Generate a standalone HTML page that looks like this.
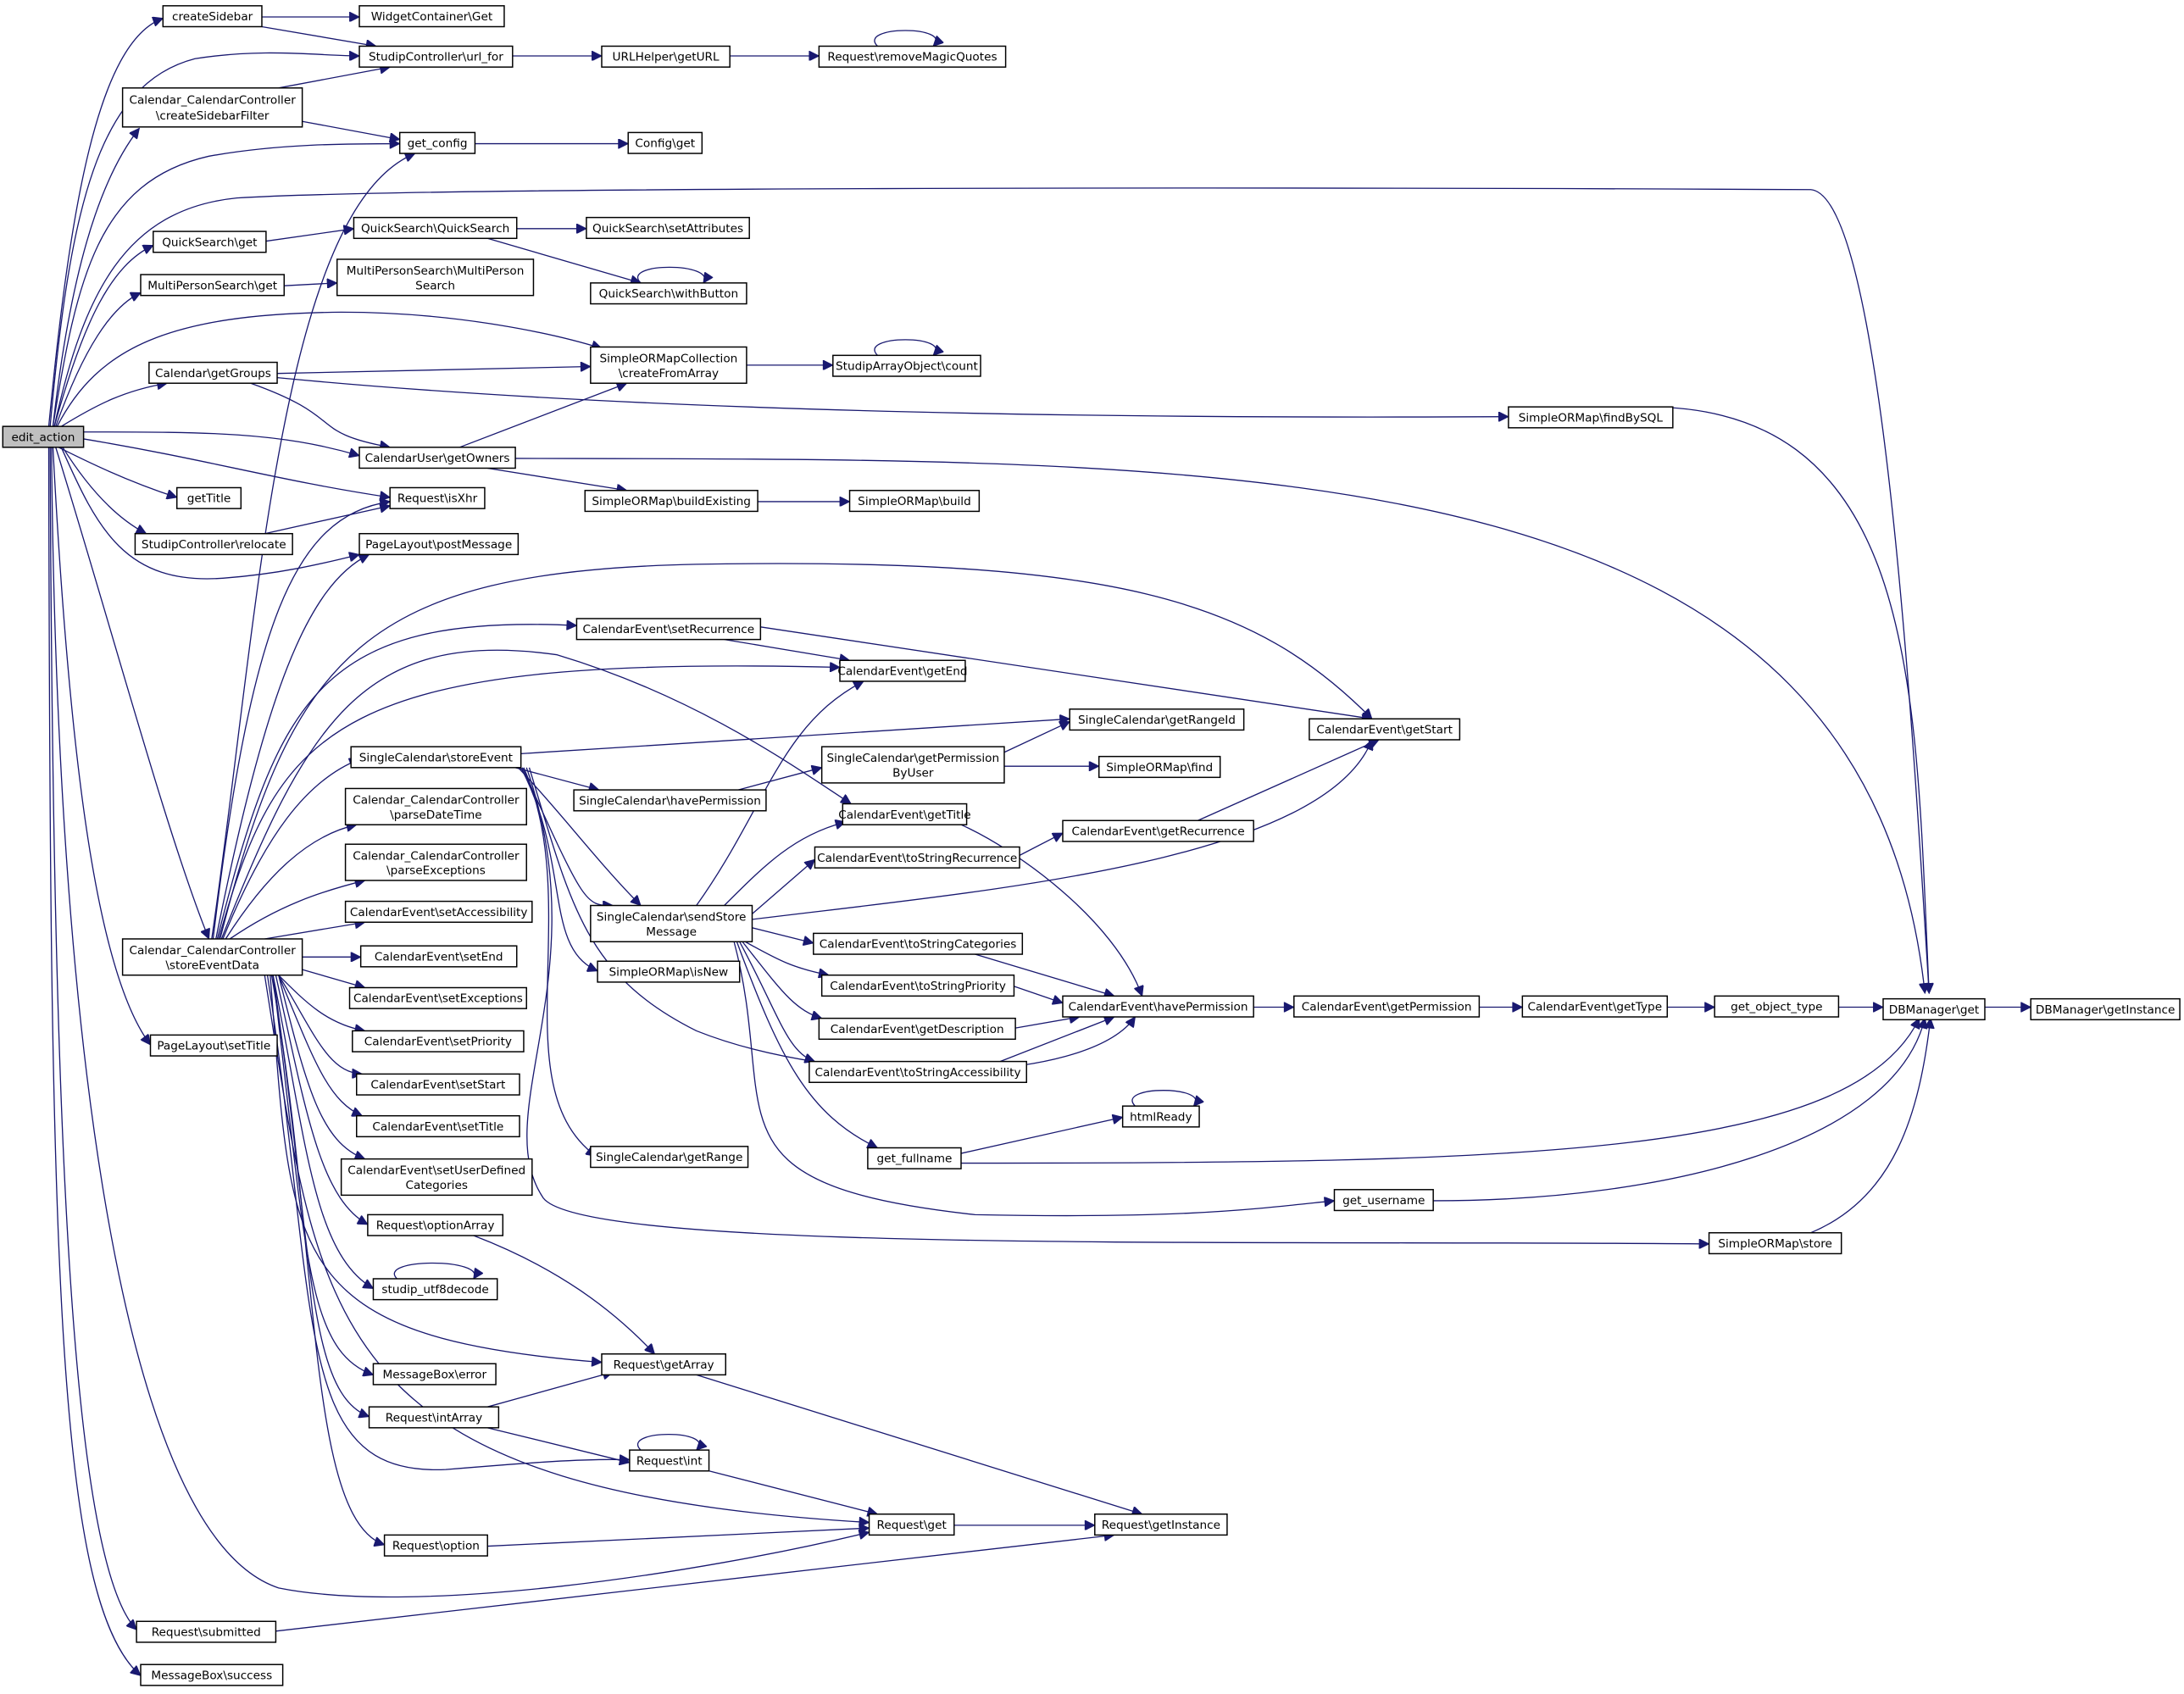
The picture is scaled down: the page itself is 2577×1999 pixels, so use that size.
<!DOCTYPE html>
<html><head><meta charset="utf-8"><style>
html,body{margin:0;padding:0;background:#fff;}
svg{display:block;}
text{font-family:"DejaVu Sans","Liberation Sans",sans-serif;font-size:8.3px;fill:#000;text-anchor:middle;}
rect{fill:#fff;stroke:#000;stroke-width:0.9;}
path{fill:none;stroke:#191970;stroke-width:0.8;marker-end:url(#a);}
</style></head><body>
<svg width="2577" height="1999" viewBox="0 0 1568 1216" xmlns="http://www.w3.org/2000/svg">
<defs><marker id="a" viewBox="0 0 10 10" refX="10" refY="5" markerWidth="9" markerHeight="7" markerUnits="userSpaceOnUse" orient="auto"><path d="M0 0 L10 5 L0 10 z" style="fill:#191970;stroke:#191970;marker-end:none"/></marker></defs>

<!-- edges from edit_action -->
<path d="M35 306 C50 150 70 30 117 13"/>
<path d="M36 306 C50 150 70 60 140 42 C190 34 230 40 258 40"/>
<path d="M38 306 C50 200 70 130 100 92"/>
<path d="M38 306 C55 200 70 130 150 112 C200 103 250 103 287 103"/>
<path d="M39 306 C60 210 90 150 170 142 C300 134 900 134 1300 136 C1350 140 1372 500 1385 713"/>
<path d="M39 306 C60 230 80 190 110 176"/>
<path d="M40 306 C60 250 80 220 101 210"/>
<path d="M41 306 C70 250 120 225 245 224 C330 224 400 240 432 250"/>
<path d="M44 306 C70 290 90 280 120 275"/>
<path d="M60 310 C150 310 200 310 258 327"/>
<path d="M60 315 C150 330 200 345 280 357"/>
<path d="M42 321 C60 330 90 345 127 357"/>
<path d="M45 321 C60 345 80 370 105 383"/>
<path d="M44 321 C70 380 90 420 160 415 C200 412 230 405 258 398"/>
<path d="M40 321 C80 450 120 600 150 674"/>
<path d="M38 321 C50 550 70 700 108 750"/>
<path d="M37 321 C40 700 80 1100 200 1140 C300 1160 500 1130 624 1100"/>
<path d="M36 321 C38 800 50 1120 98 1170"/>
<path d="M35 321 C36 900 40 1150 101 1203"/>

<!-- top cluster -->
<path d="M188 12 L258 12"/>
<path d="M188 19 L270 33"/>
<path d="M368 40 L432 40"/>
<path d="M524 40 L588 40"/>
<path d="M630 33 C615 18 685 18 670 33"/>
<path d="M200 63 L280 48"/>
<path d="M217 87 L287 100"/>
<path d="M341 103 L451 103"/>
<path d="M191 173 L254 164"/>
<path d="M371 164 L421 164"/>
<path d="M350 171 L460 203"/>
<path d="M460 203 C445 188 515 188 505 203"/>
<path d="M204 205 L242 203"/>
<path d="M199 268 L424 263"/>
<path d="M199 271 C500 300 900 300 1083 299"/>
<path d="M180 275 C250 300 220 310 280 321"/>
<path d="M536 262 L598 262"/>
<path d="M630 255 C615 240 685 240 670 255"/>
<path d="M1180 292 C1380 290 1375 500 1385 713"/>
<path d="M330 321 L450 275"/>
<path d="M370 329 C900 330 1340 320 1382 713"/>
<path d="M350 336 L450 352"/>
<path d="M544 360 L610 360"/>
<path d="M190 383 L280 363"/>

<!-- storeEventData edges -->
<path d="M152 674 C185 450 200 150 298 110"/>
<path d="M153 674 C180 450 210 370 280 360"/>
<path d="M155 674 C190 500 220 420 265 398"/>
<path d="M156 674 C200 500 230 440 414 449"/>
<path d="M157 674 C200 520 240 470 603 479"/>
<path d="M158 674 C210 470 260 410 500 405 C800 400 900 430 985 516"/>
<path d="M159 674 C220 520 260 450 400 470 C500 500 570 550 611 577"/>
<path d="M160 674 C190 600 220 560 258 545"/>
<path d="M162 674 C190 630 220 600 256 592"/>
<path d="M165 674 C200 650 230 640 262 632"/>
<path d="M190 674 L262 662"/>
<path d="M217 687 L259 687"/>
<path d="M217 696 L262 709"/>
<path d="M200 700 C220 720 235 735 262 740"/>
<path d="M200 700 C225 740 235 770 260 771"/>
<path d="M200 700 C225 760 235 790 260 801"/>
<path d="M200 700 C220 780 230 820 262 832"/>
<path d="M198 700 C220 800 230 860 264 879"/>
<path d="M196 700 C220 820 225 900 268 925"/>
<path d="M194 700 C210 900 200 960 432 978"/>
<path d="M196 700 C220 900 220 970 268 987"/>
<path d="M196 700 C225 900 220 1000 265 1017"/>
<path d="M192 700 C230 950 210 1060 320 1055 C380 1050 420 1047 452 1048"/>
<path d="M190 700 C230 950 230 1070 624 1093"/>
<path d="M195 700 C230 900 220 1090 276 1109"/>

<!-- storeEvent -->
<path d="M374 541 L768 516"/>
<path d="M370 551 L430 567"/>
<path d="M372 551 C400 580 430 620 460 650"/>
<path d="M374 551 C410 620 390 680 429 697"/>
<path d="M376 551 C420 650 360 780 428 830"/>
<path d="M378 551 C430 700 350 800 390 860 C420 900 900 890 1227 893"/>
<path d="M380 551 C410 650 420 700 500 740 C600 780 780 780 815 730"/>
<path d="M375 551 C420 650 420 650 440 650"/>
<path d="M530 567 L590 551"/>
<path d="M721 540 L768 518"/>
<path d="M721 550 L789 550"/>

<!-- sendStoreMessage -->
<path d="M500 650 C550 580 560 520 620 489"/>
<path d="M520 650 C550 620 570 600 607 590"/>
<path d="M540 656 L585 617"/>
<path d="M540 660 C700 640 950 620 985 531"/>
<path d="M540 666 L584 677"/>
<path d="M535 676 C560 690 570 695 595 700"/>
<path d="M533 676 C560 710 570 725 590 731"/>
<path d="M531 676 C560 730 565 755 585 762"/>
<path d="M529 676 C560 760 580 800 630 824"/>
<path d="M527 676 C560 800 500 850 700 872 C850 875 900 868 958 862"/>
<path d="M732 614 L763 598"/>
<path d="M860 589 L990 531"/>
<path d="M546 450 L985 516"/>
<path d="M520 459 L610 474"/>
<path d="M690 592 C730 610 800 660 820 715"/>
<path d="M700 685 L800 715"/>
<path d="M728 708 L763 720"/>
<path d="M729 738 L775 730"/>
<path d="M718 762 L800 730"/>
<path d="M900 723 L929 723"/>
<path d="M1062 723 L1093 723"/>
<path d="M1197 723 L1231 723"/>
<path d="M1320 723 L1352 723"/>
<path d="M1425 723 L1458 723"/>
<path d="M690 828 L806 802"/>
<path d="M815 794 C800 779 870 779 857 794"/>
<path d="M690 835 C1100 835 1330 830 1378 731"/>
<path d="M1029 862 C1200 862 1360 820 1382 731"/>
<path d="M1300 885 C1360 860 1378 800 1386 731"/>

<!-- lower requests -->
<path d="M340 887 C400 910 440 940 470 972"/>
<path d="M350 1010 L440 985"/>
<path d="M350 1025 L452 1050"/>
<path d="M460 1041 C445 1026 515 1026 500 1041"/>
<path d="M509 1056 L630 1087"/>
<path d="M500 987 L820 1087"/>
<path d="M685 1095 L786 1095"/>
<path d="M350 1110 L624 1097"/>
<path d="M198 1171 L800 1102"/>
<path d="M285 918 C270 903 350 903 340 918"/>

<!-- nodes -->
<rect x="2" y="306" width="58" height="15" style="fill:#bfbfbf"/><text x="31" y="316.5">edit_action</text>
<rect x="117" y="4" width="71" height="15"/><text x="152.5" y="14.5">createSidebar</text>
<rect x="258" y="4" width="104" height="15"/><text x="310" y="14.5">WidgetContainer\Get</text>
<rect x="258" y="33" width="110" height="15"/><text x="313" y="43.5">StudipController\url_for</text>
<rect x="432" y="33" width="92" height="15"/><text x="478" y="43.5">URLHelper\getURL</text>
<rect x="588" y="33" width="134" height="15"/><text x="655" y="43.5">Request\removeMagicQuotes</text>
<rect x="88" y="63" width="129" height="28"/><text x="152.5" y="74.5">Calendar_CalendarController</text><text x="152.5" y="85.5">\createSidebarFilter</text>
<rect x="287" y="95" width="54" height="15"/><text x="314" y="105.5">get_config</text>
<rect x="451" y="95" width="53" height="15"/><text x="477.5" y="105.5">Config\get</text>
<rect x="110" y="166" width="81" height="15"/><text x="150.5" y="176.5">QuickSearch\get</text>
<rect x="254" y="156" width="117" height="15"/><text x="312.5" y="166.5">QuickSearch\QuickSearch</text>
<rect x="421" y="156" width="117" height="15"/><text x="479.5" y="166.5">QuickSearch\setAttributes</text>
<rect x="101" y="197" width="103" height="15"/><text x="152.5" y="207.5">MultiPersonSearch\get</text>
<rect x="242" y="186" width="141" height="26"/><text x="312.5" y="197">MultiPersonSearch\MultiPerson</text><text x="312.5" y="207.5">Search</text>
<rect x="424" y="203" width="112" height="15"/><text x="480" y="213.5">QuickSearch\withButton</text>
<rect x="424" y="249" width="112" height="26"/><text x="480" y="260">SimpleORMapCollection</text><text x="480" y="270.5">\createFromArray</text>
<rect x="598" y="255" width="106" height="15"/><text x="651" y="265.5">StudipArrayObject\count</text>
<rect x="107" y="260" width="92" height="15"/><text x="153" y="270.5">Calendar\getGroups</text>
<rect x="1083" y="292" width="118" height="15"/><text x="1142" y="302.5">SimpleORMap\findBySQL</text>
<rect x="258" y="321" width="112" height="15"/><text x="314" y="331.5">CalendarUser\getOwners</text>
<rect x="280" y="350" width="68" height="15"/><text x="314" y="360.5">Request\isXhr</text>
<rect x="127" y="350" width="46" height="15"/><text x="150" y="360.5">getTitle</text>
<rect x="420" y="352" width="124" height="15"/><text x="482" y="362.5">SimpleORMap\buildExisting</text>
<rect x="610" y="352" width="93" height="15"/><text x="656.5" y="362.5">SimpleORMap\build</text>
<rect x="97" y="383" width="113" height="15"/><text x="153.5" y="393.5">StudipController\relocate</text>
<rect x="258" y="383" width="114" height="15"/><text x="315" y="393.5">PageLayout\postMessage</text>
<rect x="414" y="444" width="132" height="15"/><text x="480" y="454.5">CalendarEvent\setRecurrence</text>
<rect x="603" y="474" width="90" height="15"/><text x="648" y="484.5">CalendarEvent\getEnd</text>
<rect x="768" y="509" width="125" height="15"/><text x="830.5" y="519.5">SingleCalendar\getRangeId</text>
<rect x="940" y="516" width="108" height="15"/><text x="994" y="526.5">CalendarEvent\getStart</text>
<rect x="252" y="536" width="122" height="15"/><text x="313" y="546.5">SingleCalendar\storeEvent</text>
<rect x="590" y="536" width="131" height="26"/><text x="655.5" y="547">SingleCalendar\getPermission</text><text x="655.5" y="557.5">ByUser</text>
<rect x="789" y="543" width="87" height="15"/><text x="832.5" y="553.5">SimpleORMap\find</text>
<rect x="412" y="567" width="138" height="15"/><text x="481" y="577.5">SingleCalendar\havePermission</text>
<rect x="605" y="577" width="89" height="15"/><text x="649.5" y="587.5">CalendarEvent\getTitle</text>
<rect x="248" y="566" width="130" height="26"/><text x="313" y="577">Calendar_CalendarController</text><text x="313" y="587.5">\parseDateTime</text>
<rect x="763" y="589" width="137" height="15"/><text x="831.5" y="599.5">CalendarEvent\getRecurrence</text>
<rect x="585" y="608" width="147" height="15"/><text x="658.5" y="618.5">CalendarEvent\toStringRecurrence</text>
<rect x="248" y="606" width="130" height="26"/><text x="313" y="617">Calendar_CalendarController</text><text x="313" y="627.5">\parseExceptions</text>
<rect x="424" y="650" width="116" height="26"/><text x="482" y="661">SingleCalendar\sendStore</text><text x="482" y="671.5">Message</text>
<rect x="248" y="647" width="134" height="15"/><text x="315" y="657.5">CalendarEvent\setAccessibility</text>
<rect x="88" y="674" width="129" height="26"/><text x="152.5" y="685">Calendar_CalendarController</text><text x="152.5" y="695.5">\storeEventData</text>
<rect x="584" y="670" width="150" height="15"/><text x="659" y="680.5">CalendarEvent\toStringCategories</text>
<rect x="259" y="679" width="112" height="15"/><text x="315" y="689.5">CalendarEvent\setEnd</text>
<rect x="429" y="690" width="102" height="15"/><text x="480" y="700.5">SimpleORMap\isNew</text>
<rect x="251" y="709" width="127" height="15"/><text x="314.5" y="719.5">CalendarEvent\setExceptions</text>
<rect x="590" y="700" width="138" height="15"/><text x="659" y="710.5">CalendarEvent\toStringPriority</text>
<rect x="763" y="715" width="137" height="15"/><text x="831.5" y="725.5">CalendarEvent\havePermission</text>
<rect x="929" y="715" width="133" height="15"/><text x="995.5" y="725.5">CalendarEvent\getPermission</text>
<rect x="1093" y="715" width="104" height="15"/><text x="1145" y="725.5">CalendarEvent\getType</text>
<rect x="1231" y="715" width="89" height="15"/><text x="1275.5" y="725.5">get_object_type</text>
<rect x="1352" y="717" width="73" height="15"/><text x="1388.5" y="727.5">DBManager\get</text>
<rect x="1458" y="717" width="107" height="15"/><text x="1511.5" y="727.5">DBManager\getInstance</text>
<rect x="253" y="740" width="123" height="15"/><text x="314.5" y="750.5">CalendarEvent\setPriority</text>
<rect x="588" y="731" width="141" height="15"/><text x="658.5" y="741.5">CalendarEvent\getDescription</text>
<rect x="581" y="762" width="156" height="15"/><text x="659" y="772.5">CalendarEvent\toStringAccessibility</text>
<rect x="108" y="743" width="91" height="15"/><text x="153.5" y="753.5">PageLayout\setTitle</text>
<rect x="256" y="771" width="117" height="15"/><text x="314.5" y="781.5">CalendarEvent\setStart</text>
<rect x="806" y="794" width="55" height="15"/><text x="833.5" y="804.5">htmlReady</text>
<rect x="256" y="801" width="117" height="15"/><text x="314.5" y="811.5">CalendarEvent\setTitle</text>
<rect x="623" y="824" width="67" height="15"/><text x="656.5" y="834.5">get_fullname</text>
<rect x="424" y="823" width="113" height="15"/><text x="480.5" y="833.5">SingleCalendar\getRange</text>
<rect x="245" y="832" width="137" height="26"/><text x="313.5" y="843">CalendarEvent\setUserDefined</text><text x="313.5" y="853.5">Categories</text>
<rect x="958" y="854" width="71" height="15"/><text x="993.5" y="864.5">get_username</text>
<rect x="264" y="872" width="97" height="15"/><text x="312.5" y="882.5">Request\optionArray</text>
<rect x="1227" y="885" width="95" height="15"/><text x="1274.5" y="895.5">SimpleORMap\store</text>
<rect x="268" y="918" width="89" height="15"/><text x="312.5" y="928.5">studip_utf8decode</text>
<rect x="432" y="972" width="89" height="15"/><text x="476.5" y="982.5">Request\getArray</text>
<rect x="268" y="979" width="88" height="15"/><text x="312" y="989.5">MessageBox\error</text>
<rect x="265" y="1010" width="93" height="15"/><text x="311.5" y="1020.5">Request\intArray</text>
<rect x="452" y="1041" width="57" height="15"/><text x="480.5" y="1051.5">Request\int</text>
<rect x="624" y="1087" width="61" height="15"/><text x="654.5" y="1097.5">Request\get</text>
<rect x="786" y="1087" width="95" height="15"/><text x="833.5" y="1097.5">Request\getInstance</text>
<rect x="276" y="1102" width="74" height="15"/><text x="313" y="1112.5">Request\option</text>
<rect x="98" y="1164" width="100" height="15"/><text x="148" y="1174.5">Request\submitted</text>
<rect x="101" y="1195" width="102" height="15"/><text x="152" y="1205.5">MessageBox\success</text>
</svg>
</body></html>
